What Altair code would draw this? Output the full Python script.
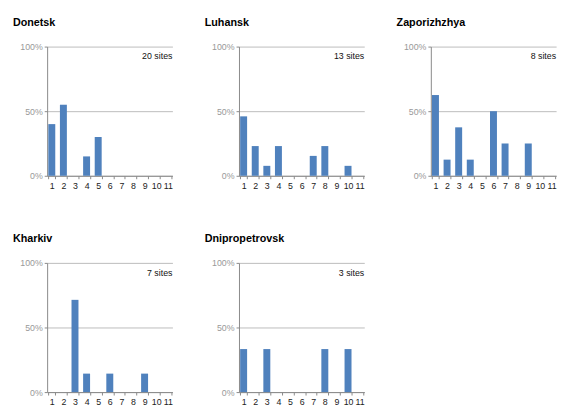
import altair as alt
import pandas as pd

regions = ["Donetsk", "Luhansk", "Zaporizhzhya", "Kharkiv", "Dnipropetrovsk"]
sites = [20, 13, 8, 7, 3]
categories = [str(i) for i in range(1, 12)]
donetsk = [0.40, 0.55, 0.0, 0.15, 0.30, 0, 0, 0, 0, 0, 0]
luhansk = [0.46, 0.23, 0.077, 0.23, 0, 0, 0.154, 0.23, 0, 0.077, 0]
zaporizhzhya = [0.625, 0.125, 0.375, 0.125, 0, 0.50, 0.25, 0, 0.25, 0, 0]
kharkiv = [0, 0, 0.714, 0.143, 0, 0.143, 0, 0, 0.143, 0, 0]
dnipropetrovsk = [0.333, 0, 0.333, 0, 0, 0, 0, 0.333, 0, 0.333, 0]
series = [donetsk, luhansk, zaporizhzhya, kharkiv, dnipropetrovsk]

W, H = 128, 132
FONT = "Liberation Sans"


def panel(name, n, vals):
    df = pd.DataFrame({"cat": categories, "share": vals})
    bars = alt.Chart(df).mark_bar(color="#4F81BD").encode(
        x=alt.X(
            "cat:N",
            sort=categories,
            scale=alt.Scale(paddingInner=0.4, paddingOuter=0.1),
            axis=alt.Axis(
                title=None, labelAngle=0, tickBand="extent", tickSize=3,
                tickColor="#888", domainColor="#888", labelColor="#222",
                labelFontSize=9, labelPadding=3, labelFont=FONT,
            ),
        ),
        y=alt.Y(
            "share:Q",
            scale=alt.Scale(domain=[0, 1]),
            axis=alt.Axis(
                title=None, values=[0, 0.5, 1], format="%", tickSize=3,
                tickColor="#888", domainColor="#888", gridColor="#bbb",
                labelColor="#999", labelFontSize=9, labelFont=FONT,
                minExtent=35, maxExtent=35,
            ),
        ),
    )
    label = alt.Chart(pd.DataFrame({"t": [f"{n} sites"]})).mark_text(
        align="right", baseline="middle", fontSize=9, font=FONT, color="#111"
    ).encode(x=alt.value(W), y=alt.value(10), text="t:N")
    return alt.layer(bars, label).properties(
        width=W, height=H,
        title=alt.TitleParams(
            name, anchor="start", frame="bounds", fontSize=11, font=FONT,
            fontWeight="bold", color="#000", offset=15,
        ),
    )


panels = [panel(r, s, v) for r, s, v in zip(regions, sites, series)]
row1 = alt.hconcat(*panels[:3], spacing=33)
row2 = alt.hconcat(*panels[3:], spacing=33)
chart = alt.vconcat(row1, row2, spacing=44).configure_view(stroke=None)

chart.save("out.html", embed_options={"renderer": "svg", "actions": False})
